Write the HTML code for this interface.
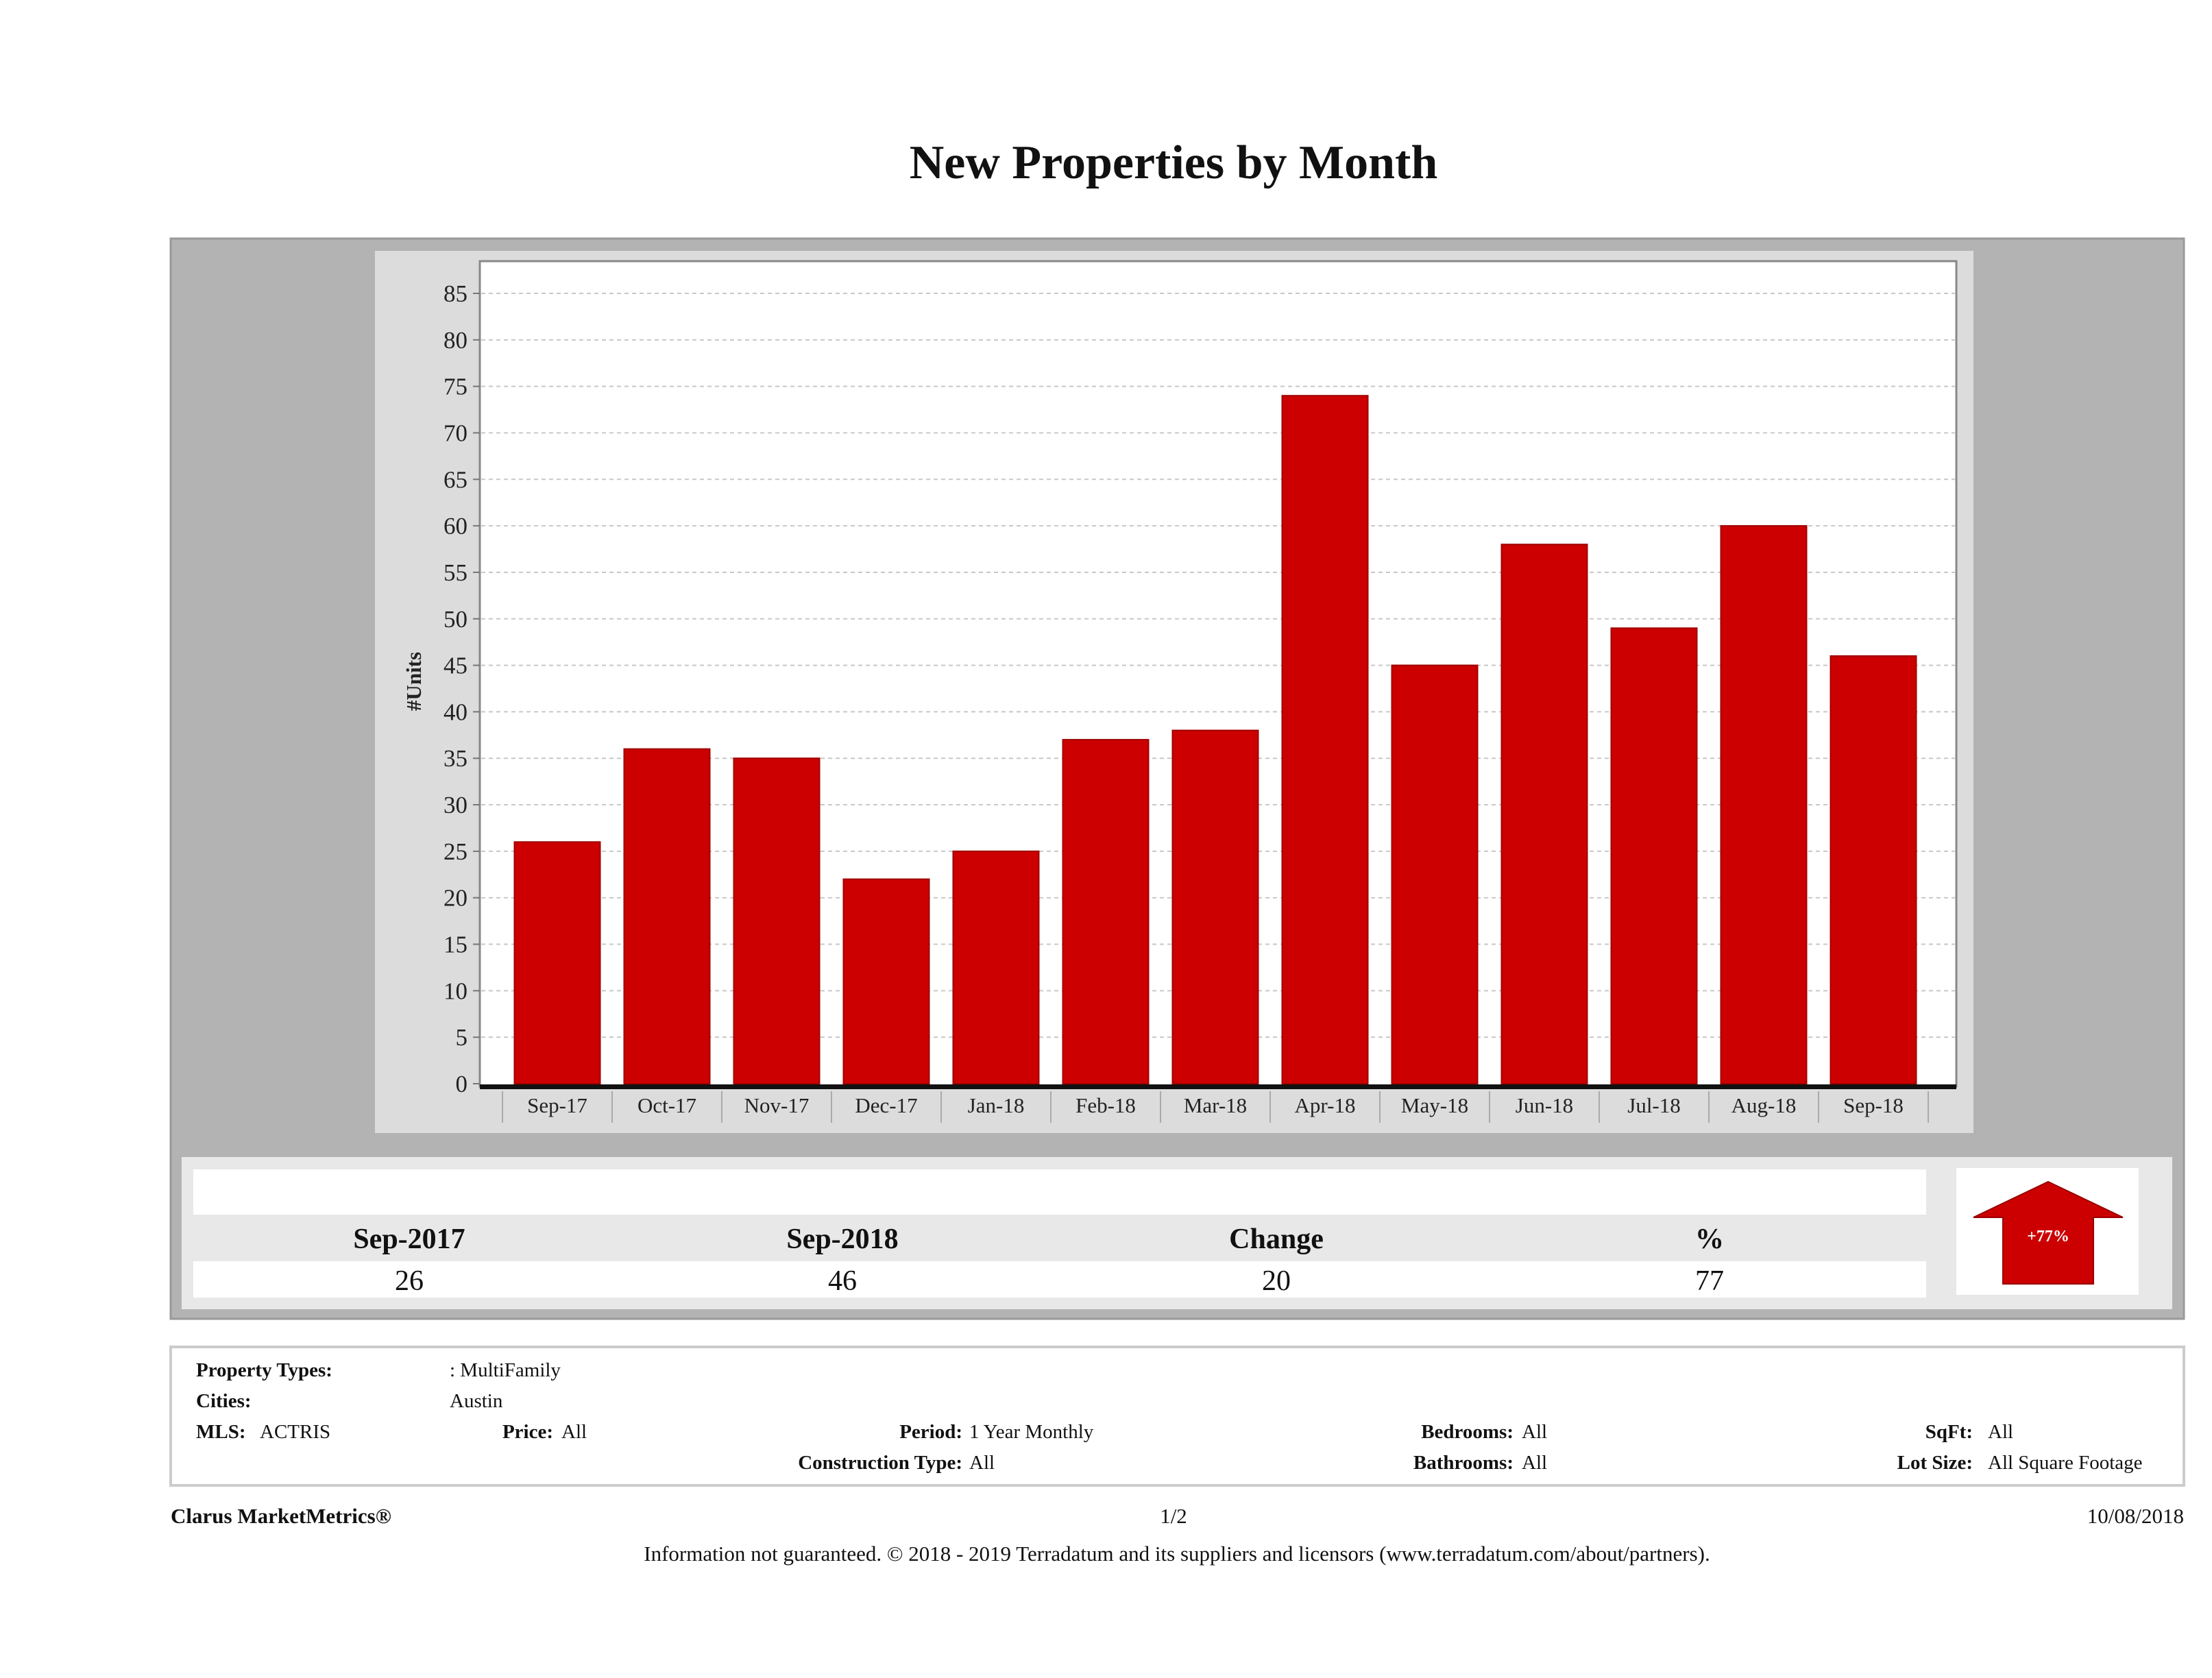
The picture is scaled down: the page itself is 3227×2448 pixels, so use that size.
<!DOCTYPE html>
<html><head><meta charset="utf-8"><style>
html,body{margin:0;padding:0;background:#fff;}
svg{display:block;font-family:"Liberation Serif",serif;}
</style></head><body>
<svg id="c" width="3227" height="2448" viewBox="0 0 3227 2448" xmlns="http://www.w3.org/2000/svg">
<text x="1712" y="260" text-anchor="middle" font-size="70" font-weight="bold" fill="#111">New Properties by Month</text>
<rect x="249" y="348" width="2937" height="1576" fill="#b3b3b3" stroke="#999" stroke-width="3"/>
<rect x="547" y="366" width="2332" height="1287" fill="#dcdcdc"/>
<rect x="700" y="381" width="2154" height="1204" fill="#fff" stroke="#888" stroke-width="3"/>
<g id="grid"></g>
<g id="yticks"></g>
<g id="bars"></g>
<g id="xticks"></g>
<text transform="translate(614,994) rotate(-90)" text-anchor="middle" font-size="31" font-weight="bold" fill="#222">#Units</text>

<rect x="265" y="1688" width="2904" height="222" fill="#e8e8e8"/>
<rect x="282" y="1706" width="2528" height="66" fill="#fff"/>
<rect x="282" y="1840" width="2528" height="53" fill="#fff"/>
<g font-size="42" fill="#111" text-anchor="middle">
<text x="597" y="1821" font-weight="bold">Sep-2017</text>
<text x="1229" y="1821" font-weight="bold">Sep-2018</text>
<text x="1862" y="1821" font-weight="bold">Change</text>
<text x="2494" y="1821" font-weight="bold">%</text>
<text x="597" y="1882">26</text>
<text x="1229" y="1882">46</text>
<text x="1862" y="1882">20</text>
<text x="2494" y="1882">77</text>
</g>
<rect x="2854" y="1704" width="266" height="185" fill="#fff"/>
<polygon points="2988,1724 3097,1776 3054,1776 3054,1873 2922,1873 2922,1776 2879,1776" fill="#cc0000" stroke="#990000" stroke-width="2"/>
<text x="2988" y="1811" text-anchor="middle" font-size="24" font-weight="bold" fill="#fff">+77%</text>

<rect x="249" y="1965" width="2937" height="202" fill="#fff" stroke="#ccc" stroke-width="4"/>
<g font-size="29" fill="#111">
<text x="286" y="2008" font-weight="bold">Property Types:</text>
<text x="656" y="2008">: MultiFamily</text>
<text x="286" y="2053" font-weight="bold">Cities:</text>
<text x="656" y="2053">Austin</text>
<text x="286" y="2098" font-weight="bold">MLS:</text>
<text x="379" y="2098">ACTRIS</text>
<text x="807" y="2098" text-anchor="end" font-weight="bold">Price:</text>
<text x="819" y="2098">All</text>
<text x="1404" y="2098" text-anchor="end" font-weight="bold">Period:</text>
<text x="1414" y="2098">1 Year Monthly</text>
<text x="2208" y="2098" text-anchor="end" font-weight="bold">Bedrooms:</text>
<text x="2220" y="2098">All</text>
<text x="2878" y="2098" text-anchor="end" font-weight="bold">SqFt:</text>
<text x="2900" y="2098">All</text>
<text x="1404" y="2143" text-anchor="end" font-weight="bold">Construction Type:</text>
<text x="1414" y="2143">All</text>
<text x="2208" y="2143" text-anchor="end" font-weight="bold">Bathrooms:</text>
<text x="2220" y="2143">All</text>
<text x="2878" y="2143" text-anchor="end" font-weight="bold">Lot Size:</text>
<text x="2900" y="2143">All Square Footage</text>
</g>
<g font-size="31" fill="#111">
<text x="249" y="2222" font-weight="bold">Clarus MarketMetrics®</text>
<text x="1712" y="2222" text-anchor="middle">1/2</text>
<text x="3186" y="2222" text-anchor="end">10/08/2018</text>
<text x="1717" y="2277" text-anchor="middle">Information not guaranteed. © 2018 - 2019 Terradatum and its suppliers and licensors (www.terradatum.com/about/partners).</text>
</g>
</svg>
<script>
const categories = ["Sep-17","Oct-17","Nov-17","Dec-17","Jan-18","Feb-18","Mar-18","Apr-18","May-18","Jun-18","Jul-18","Aug-18","Sep-18"];
const unitValues = [26,36,35,22,25,37,38,74,45,58,49,60,46];
const yTickLabels = [0,5,10,15,20,25,30,35,40,45,50,55,60,65,70,75,80,85];

const NS="http://www.w3.org/2000/svg";
const y0=1581, y85=428, yMax=85;
const yScale=v=>y0-(v/yMax)*(y0-y85);
const xL=733, xR=2813, step=(xR-xL)/categories.length, barW=125;
const xCenter=i=>xL+step*(i+0.5);
function mk(tag,attrs,parent){const e=document.createElementNS(NS,tag);for(const k in attrs)e.setAttribute(k,attrs[k]);parent.appendChild(e);return e;}
const grid=document.getElementById('grid'),yt=document.getElementById('yticks'),bars=document.getElementById('bars'),xt=document.getElementById('xticks');
yTickLabels.forEach(v=>{
  const y=yScale(v);
  if(v>0){const g=mk('line',{x1:702,x2:2852,y1:y,y2:y,stroke:'#c8c8c8','stroke-width':2,'stroke-dasharray':'6,5'},grid);
  
  }
  const t=mk('line',{x1:690,x2:700,y1:y,y2:y,stroke:'#777','stroke-width':2},yt);
  
  
  const l=mk('text',{x:682,y:y+12,'text-anchor':'end','font-size':35,fill:'#222'},yt);
  l.textContent=v;
  
  
});
unitValues.forEach((v,i)=>{
  const cx=xCenter(i);
  const r=mk('rect',{x:cx-barW/2,y:yScale(v),width:barW,height:yScale(0)-yScale(v),fill:'#cc0000',stroke:'#a00000','stroke-width':2},bars);
  
  
});
const ax=mk('rect',{x:700,y:1582,width:2154,height:7,fill:'#111'},xt);


for(let i=0;i<=categories.length;i++){
  const x=xL+step*i;
  const d=mk('line',{x1:x,x2:x,y1:1592,y2:1638,stroke:'#aaa','stroke-width':2},xt);
  
  
}
categories.forEach((c,i)=>{
  const t=mk('text',{x:xCenter(i),y:1623,'text-anchor':'middle','font-size':31,fill:'#222'},xt);
  t.textContent=c;
  
  
});
</script>
</body></html>
